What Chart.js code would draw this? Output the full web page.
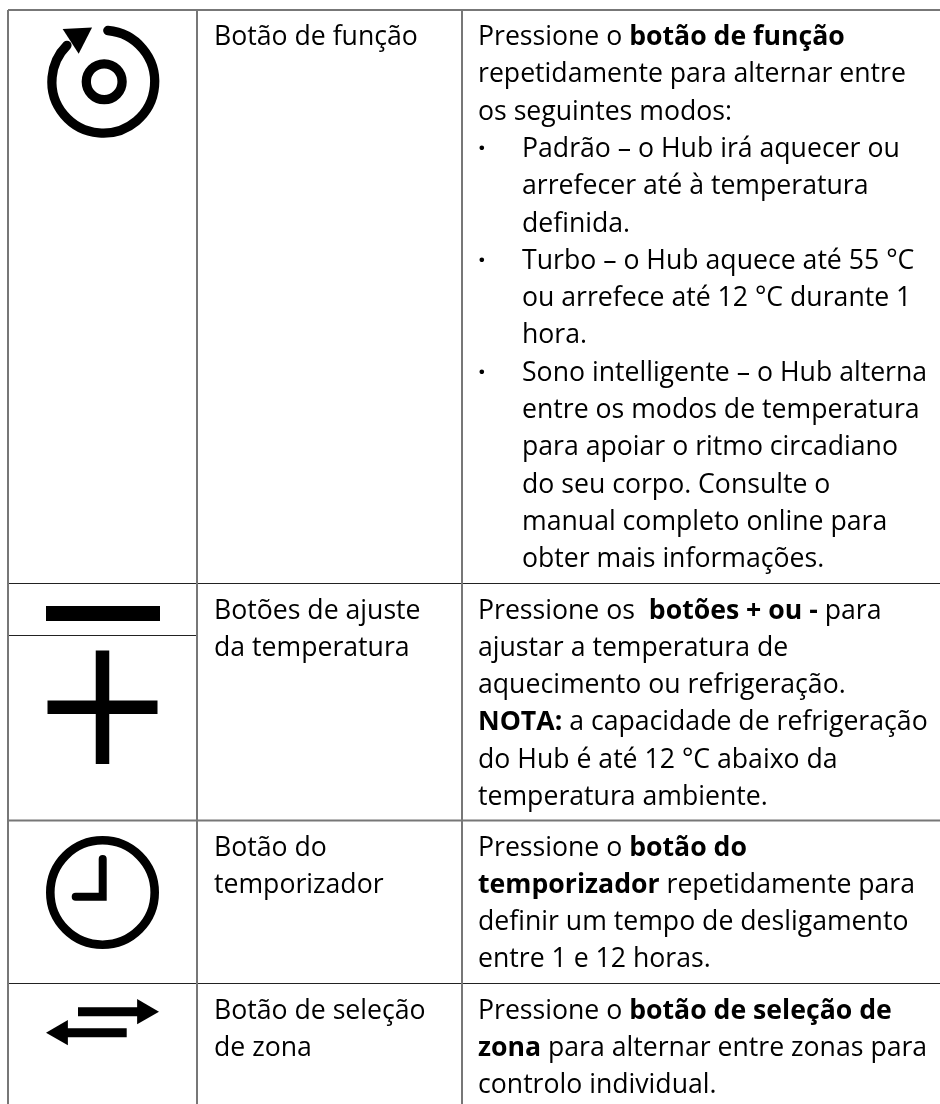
<!DOCTYPE html>
<html lang="pt">
<head>
<meta charset="utf-8">
<title>Botões do Hub</title>
<script src="https://cdn.jsdelivr.net/npm/chart.js@4/dist/chart.umd.min.js"></script>
<style>
html, body { margin: 0; padding: 0; background: #fff; }
canvas { display: block; }
</style>
</head>
<body>
<canvas id="tableChart" width="940" height="1104"></canvas>
<script>
// table layout, in axis units
const columnEdges = [8, 197, 462];
const rowEdges = [10, 583.5, 820.5, 983.5];
const splitEdge = 635.5;
const softRows = [10, 820.5];
const sharpRows = [583.5, 983.5, splitEdge];

// ** marks bold text
const rowNames = [
    ["Botão de função"],
    ["Botões de ajuste", "da temperatura"],
    ["Botão do", "temporizador"],
    ["Botão de seleção", "de zona"]
];
const rowDescriptions = [
    [
        "Pressione o **botão de função**",
        "repetidamente para alternar entre",
        "os seguintes modos:",
        ">Padrão – o Hub irá aquecer ou",
        "+arrefecer até à temperatura",
        "+definida.",
        ">Turbo – o Hub aquece até 55 °C",
        "+ou arrefece até 12 °C durante 1",
        "+hora.",
        ">Sono intelligente – o Hub alterna",
        "+entre os modos de temperatura",
        "+para apoiar o ritmo circadiano",
        "+do seu corpo. Consulte o",
        "+manual completo online para",
        "+obter mais informações."
    ],
    [
        "Pressione os  **botões + ou -** para",
        "ajustar a temperatura de",
        "aquecimento ou refrigeração.",
        "**NOTA:** a capacidade de refrigeração",
        "do Hub é até 12 °C abaixo da",
        "temperatura ambiente."
    ],
    [
        "Pressione o **botão do**",
        "**temporizador** repetidamente para",
        "definir um tempo de desligamento",
        "entre 1 e 12 horas."
    ],
    [
        "Pressione o **botão de seleção de**",
        "**zona** para alternar entre zonas para",
        "controlo individual."
    ]
];

// icons, in axis units
const minusBar = [[46, 613.5], [160, 613.5]];
const plusBars = [[[102.5, 650.5], [102.5, 764]], [[47.5, 707.2], [157.5, 707.2]]];
const clockHands = [[[102.7, 859], [102.7, 896.7], [75.7, 896.7]]];
const swapBars = [[[78, 1011.7], [140, 1011.7]], [[65, 1032.7], [126.7, 1032.7]]];
const swapHeads = [[144.4, 1011.7, 90], [60.6, 1032.7, 270]];
const cycleHead = [[77.8, 36.7, 57]];
const rings = [[104.2, 81.7, 17.9, 9.3], [102.5, 892.5, 52.2, 8.6]];
const cycleArc = { cx: 103.3, cy: 81.7, r: 51.4, from: -85, to: 225 };

const ink = "#000";
const softRule = "#777";
const sharpRule = "#222";
const bodyFont = '"Open Sans"';
const fontSize = 26.65;
const lineGap = 37.3;

function segments(list) {
    // null between segments leaves a gap in the line
    const out = [];
    list.forEach(seg => {
        seg.forEach(p => out.push({ x: p[0], y: p[1] }));
        out.push({ x: null, y: null });
    });
    return out;
}

const softLines = [];
softRows.forEach(y => softLines.push([[columnEdges[0], y], [940, y]]));
columnEdges.forEach(x => softLines.push([[x, rowEdges[0]], [x, 1104]]));

const sharpLines = sharpRows.map(y => [
    [columnEdges[0], y],
    [y === splitEdge ? columnEdges[1] : 940, y]
]);

const datasets = [
    {
        data: segments(softLines),
        showLine: true,
        borderColor: softRule,
        borderWidth: 2,
        pointRadius: 0,
        spanGaps: false
    },
    {
        data: segments(sharpLines),
        showLine: true,
        borderColor: sharpRule,
        borderWidth: 1,
        pointRadius: 0,
        spanGaps: false
    },
    {
        data: segments([minusBar]),
        showLine: true,
        borderColor: ink,
        borderWidth: 15,
        pointRadius: 0,
        spanGaps: false
    },
    {
        data: segments(plusBars),
        showLine: true,
        borderColor: ink,
        borderWidth: 13.5,
        pointRadius: 0,
        spanGaps: false
    },
    {
        data: segments(clockHands),
        showLine: true,
        borderColor: ink,
        borderWidth: 8,
        borderCapStyle: "round",
        borderJoinStyle: "miter",
        pointRadius: 0,
        spanGaps: false
    },
    {
        data: segments(swapBars),
        showLine: true,
        borderColor: ink,
        borderWidth: 9,
        pointRadius: 0,
        spanGaps: false
    },
    {
        data: swapHeads.concat(cycleHead).map(h => ({ x: h[0], y: h[1] })),
        pointStyle: "triangle",
        pointRotation: swapHeads.concat(cycleHead).map(h => h[2]),
        pointRadius: [14.6, 14.6, 17],
        backgroundColor: ink,
        borderWidth: 0
    },
    {
        data: rings.map(r => ({ x: r[0], y: r[1] })),
        pointStyle: "circle",
        pointRadius: rings.map(r => r[2]),
        backgroundColor: "rgba(0,0,0,0)",
        borderColor: ink,
        borderWidth: rings.map(r => r[3])
    }
];

function drawRich(ctx, text, x, y) {
    text.split("**").forEach((part, i) => {
        ctx.font = (i % 2 ? "bold " : "") + fontSize + "px " + bodyFont;
        ctx.fillText(part, x, y);
        x += ctx.measureText(part).width;
    });
}

const tablePlugin = {
    id: "tablePlugin",
    afterDatasetsDraw(chart) {
        const ctx = chart.ctx;
        const sx = chart.scales.x;
        const sy = chart.scales.y;

        ctx.save();
        ctx.strokeStyle = ink;
        ctx.lineWidth = 9.3;
        ctx.lineCap = "round";
        ctx.beginPath();
        ctx.arc(sx.getPixelForValue(cycleArc.cx), sy.getPixelForValue(cycleArc.cy), cycleArc.r,
            cycleArc.from * Math.PI / 180, cycleArc.to * Math.PI / 180);
        ctx.stroke();

        ctx.fillStyle = ink;
        ctx.textBaseline = "alphabetic";
        rowEdges.forEach((top, r) => {
            const base = top + 35;
            rowNames[r].forEach((line, i) => {
                drawRich(ctx, line, sx.getPixelForValue(columnEdges[1] + 17), sy.getPixelForValue(base + i * lineGap));
            });
            rowDescriptions[r].forEach((line, i) => {
                const px = sx.getPixelForValue(columnEdges[2] + 16);
                const py = sy.getPixelForValue(base + i * lineGap);
                if (line[0] === ">") {
                    drawRich(ctx, "**·**", px, py);
                    drawRich(ctx, line.slice(1), px + 44, py);
                } else if (line[0] === "+") {
                    drawRich(ctx, line.slice(1), px + 44, py);
                } else {
                    drawRich(ctx, line, px, py);
                }
            });
        });
        ctx.restore();
    }
};

new Chart(document.getElementById("tableChart"), {
    type: "scatter",
    data: { datasets: datasets },
    plugins: [tablePlugin],
    options: {
        responsive: false,
        animation: false,
        layout: { padding: 0, autoPadding: false },
        plugins: { legend: { display: false }, tooltip: { enabled: false } },
        scales: {
            x: { type: "linear", display: false, min: 0, max: 940 },
            y: { type: "linear", display: false, min: 0, max: 1104, reverse: true }
        }
    }
});
</script>
</body>
</html>
